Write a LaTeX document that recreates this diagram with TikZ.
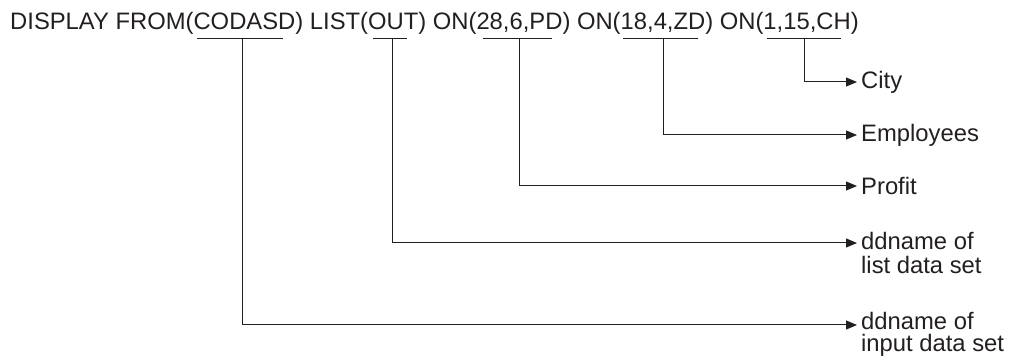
\documentclass[tikz,border=0pt]{standalone}
\usepackage{fontspec}
\setmainfont{Liberation Sans}
\usetikzlibrary{arrows.meta}
\definecolor{ink}{HTML}{231F20}
\begin{document}
\begin{tikzpicture}[x=1pt,y=1pt,
  txt/.style={inner sep=0pt,text=ink,font=\fontsize{23.8}{24}\selectfont},
  lbl/.style={txt,anchor=west,inner xsep=4pt,align=left},
  uline/.style={draw=ink,line width=1pt},
  conn/.style={draw=ink,line width=1pt,-{Triangle[length=11pt,width=9pt]}}]
\useasboundingbox (0,0) rectangle (1010,358);
\node[txt,anchor=base west] (cmd) at (10,328) {DISPLAY FROM(CODASD) LIST(OUT) ON(28,6,PD) ON(18,4,ZD) ON(1,15,CH)};
% underlines
\draw[uline] (197,319) -- (283,319);
\draw[uline] (373,319) -- (407,319);
\draw[uline] (483,319) -- (552,319);
\draw[uline] (623,319) -- (698,319);
\draw[uline] (767,319) -- (841,319);
\coordinate (uCOD) at (242,319);
\coordinate (uOUT) at (392,319);
\coordinate (uPD) at (519,319);
\coordinate (uZD) at (663,319);
\coordinate (uCH) at (804,319);
% labels
\node[lbl] (city) at (857,276) {City};
\node[lbl] (emp) at (857,223) {Employees};
\node[lbl] (prof) at (857,172) {Profit};
\node[lbl,anchor=north west] (list) at (857,126) {ddname of\\list data set};
\node[lbl,anchor=north west] (inp) at (857,46) {ddname of\\[-2pt]input data set};
% connectors
\draw[conn] (uCH) |- (city.west);
\draw[conn] (uZD) |- (emp.west);
\draw[conn] (uPD) |- (prof.west);
\draw[conn] (uOUT) |- ([yshift=-11pt]list.north west);
\draw[conn] (uCOD) |- ([yshift=-13pt]inp.north west);
\end{tikzpicture}
\end{document}
